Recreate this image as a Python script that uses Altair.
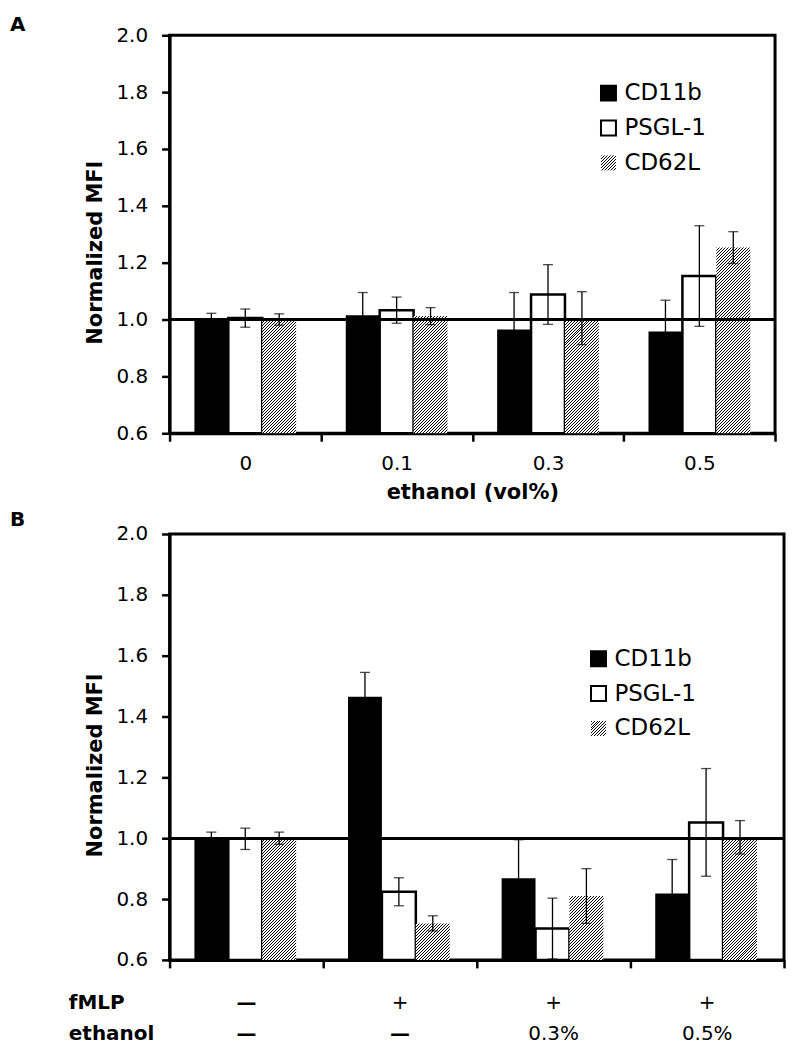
import math
import altair as alt
import pandas as pd

FONT = "DejaVu Sans"
YMIN, YMAX = 0.6, 2.0
BAR_W = 34
SEG = 0.1        # hatched bars are drawn in short pieces so each gradient stays small
OVERLAP = 0.006

series = ["CD11b", "PSGL-1", "CD62L"]

# Panel A: ethanol (vol%)
a_groups = ["0", "0.1", "0.3", "0.5"]
a_cd11b = [1.000, 1.015, 0.965, 0.958]
a_cd11b_err = [0.022, 0.080, 0.130, 0.110]
a_psgl = [1.005, 1.033, 1.088, 1.153]
a_psgl_err = [0.032, 0.046, 0.105, 0.177]
a_cd62l = [1.000, 1.012, 1.005, 1.253]
a_cd62l_err = [0.020, 0.030, 0.093, 0.056]

# Panel B: fMLP / ethanol
b_groups = ["c1", "c2", "c3", "c4"]
b_fmlp = ["—", "+", "+", "+"]
b_ethanol = ["—", "—", "0.3%", "0.5%"]
b_cd11b = [1.000, 1.465, 0.868, 0.818]
b_cd11b_err = [0.020, 0.080, 0.127, 0.112]
b_psgl = [0.998, 0.824, 0.703, 1.052]
b_psgl_err = [0.035, 0.046, 0.100, 0.177]
b_cd62l = [1.000, 0.720, 0.810, 1.003]
b_cd62l_err = [0.020, 0.025, 0.090, 0.055]


def hatch(w, h, phase=0.0, period=3.0, line=1.0):
    """Diagonal '////' stripes as a linear gradient in bounding-box units."""
    S = w + h
    D = w * w + h * h
    stops = []

    def add(s, col):
        stops.append({"offset": round(max(0.0, min(1.0, s / S)), 5), "color": col})

    k = math.floor(phase / period)
    while k * period - phase < S:
        b0 = k * period - phase
        b1 = b0 + line
        e = (k + 1) * period - phase
        if b1 > 0:
            add(max(b0, 0), "black")
            add(min(b1, S), "black")
        if e > 0 and b1 < S:
            add(max(b1, 0), "white")
            add(min(e, S), "white")
        k += 1
    return {"gradient": "linear", "x1": 0, "y1": 0,
            "x2": round(w * S / D, 5), "y2": round(h * S / D, 5), "stops": stops}


def long_df(groups, vals, errs):
    rows = []
    for s, v, e in zip(series, vals, errs):
        for g, vv, ee in zip(groups, v, e):
            rows.append({"group": g, "series": s, "value": vv, "lo": vv - ee, "hi": vv + ee})
    return pd.DataFrame(rows)


def hatch_pieces(groups, vals, ppu):
    rows, conds = [], []
    for g, v in zip(groups, vals):
        lo, i = YMIN, 0
        while lo < v - 1e-9:
            hi = min(lo + SEG, v)
            top = min(hi + OVERLAP, v)
            key = f"{g}|{i}"
            rows.append({"group": g, "series": "CD62L", "y0": lo, "y1": top, "key": key})
            conds.append({"test": f"datum.key === '{key}'",
                          "value": hatch(BAR_W, (top - lo) * ppu, phase=(v - top) * ppu)})
            lo, i = hi, i + 1
    return pd.DataFrame(rows), conds


def panel(label, label_dy, groups, vals, errs, W, H, x_axis, leg_x, leg_y0, extra=None):
    df = long_df(groups, vals, errs)
    ppu = H / (YMAX - YMIN)
    step = W / len(groups)
    po = (step / BAR_W - 3) / 2
    xs = alt.Scale(paddingInner=0, paddingOuter=0)
    x = alt.X("group:N", sort=groups, scale=xs, axis=x_axis, title=x_axis.title if x_axis else None)
    xo = alt.XOffset("series:N", sort=series, scale=alt.Scale(paddingInner=0, paddingOuter=po))
    ys = alt.Scale(domain=[YMIN, YMAX], zero=False, nice=False)
    yax = alt.Axis(values=[0.6, 0.8, 1.0, 1.2, 1.4, 1.6, 1.8, 2.0], format=".1f",
                   labelPadding=14, titlePadding=10, titleY=H / 2 + 18)
    TITLE = "Normalized MFI"

    solid = alt.Chart(df).transform_filter("datum.series !== 'CD62L'").mark_bar(strokeWidth=2.5).encode(
        x=x, xOffset=xo,
        y=alt.Y("value:Q", scale=ys, axis=yax, title=TITLE),
        y2=alt.datum(YMIN),
        fill=alt.condition("datum.series === 'CD11b'", alt.value("black"), alt.value("white")),
        stroke=alt.condition("datum.series === 'PSGL-1'", alt.value("black"), alt.value("transparent")),
    )
    hdf, conds = hatch_pieces(groups, vals[2], ppu)
    hatched = alt.Chart(hdf).mark_bar(strokeWidth=0).encode(
        x=x, xOffset=xo,
        y=alt.Y("y0:Q", scale=ys, axis=yax, title=TITLE),
        y2="y1:Q",
        fill={"condition": conds, "value": "#888888"},
    )
    ref = alt.Chart(df).mark_rule(strokeWidth=2.5, color="black").encode(
        y=alt.YDatum(1.0, scale=ys, axis=yax, title=TITLE))
    err = alt.Chart(df).mark_rule(strokeWidth=1.3, color="black").encode(
        x=x, xOffset=xo, y=alt.Y("lo:Q", scale=ys, axis=yax, title=TITLE), y2="hi:Q")
    cap_hi = alt.Chart(df).mark_tick(orient="horizontal", size=10, thickness=1.3, color="black").encode(
        x=x, xOffset=xo, y=alt.Y("hi:Q", scale=ys, axis=yax, title=TITLE))
    cap_lo = alt.Chart(df).mark_tick(orient="horizontal", size=10, thickness=1.3, color="black").encode(
        x=x, xOffset=xo, y=alt.Y("lo:Q", scale=ys, axis=yax, title=TITLE))
    lab = alt.Chart(pd.DataFrame({"t": [label]})).mark_text(
        align="left", baseline="middle", fontSize=20, fontWeight="bold", font=FONT, color="black"
    ).encode(x=alt.value(-160), y=alt.value(label_dy), text="t:N")
    layers = [solid, hatched, ref, err, cap_hi, cap_lo, lab]
    # legend
    sq = 15
    for i, s in enumerate(series):
        cy = leg_y0 + 35 * i
        if s == "CD11b":
            f, st = "black", "black"
        elif s == "PSGL-1":
            f, st = "white", "black"
        else:
            f, st = hatch(sq, sq), "transparent"
        ld = pd.DataFrame({"series": [s]})
        layers.append(alt.Chart(ld).mark_rect(fill=f, stroke=st, strokeWidth=2).encode(
            x=alt.value(leg_x - sq / 2), x2=alt.value(leg_x + sq / 2),
            y=alt.value(cy - sq / 2), y2=alt.value(cy + sq / 2)))
        layers.append(alt.Chart(ld).mark_text(align="left", baseline="middle", fontSize=23,
                                              font=FONT, color="black").encode(
            x=alt.value(leg_x + 16), y=alt.value(cy), text="series:N"))
    if extra:
        layers += extra(x)
    return alt.layer(*layers).properties(width=W, height=H)


W_A, H_A = 607, 399
W_B, H_B = 616, 427

axis_a = alt.Axis(tickBand="extent", labelAngle=0, labelPadding=12, titlePadding=8,
                  title="ethanol (vol%)")
chart_a = panel("A", -10, a_groups, [a_cd11b, a_psgl, a_cd62l], [a_cd11b_err, a_psgl_err, a_cd62l_err],
                W_A, H_A, axis_a, 440, 58)


def b_rows(x):
    rdf = pd.DataFrame({"group": b_groups, "fmlp": b_fmlp, "eth": b_ethanol})
    out = []
    for col, dy in (("fmlp", 43), ("eth", 74)):
        for dash in (True, False):
            test = f"datum.{col} {'===' if dash else '!=='} '—'"
            out.append(alt.Chart(rdf).transform_filter(test).mark_text(
                fontSize=20, font=FONT, baseline="middle", color="black",
                fontWeight="bold" if dash else "normal"
            ).encode(x=x, y=alt.value(H_B + dy), text=f"{col}:N"))
    hd = pd.DataFrame({"t": ["fMLP", "ethanol"], "r": [0, 1]})
    for r, dy in ((0, 43), (1, 74)):
        out.append(alt.Chart(hd).transform_filter(f"datum.r == {r}").mark_text(
            align="left", baseline="middle", fontSize=20, fontWeight="bold", font=FONT, color="black"
        ).encode(x=alt.value(-101), y=alt.value(H_B + dy), text="t:N"))
    return out


axis_b = alt.Axis(tickBand="extent", labels=False, title=None)
chart_b = panel("B", -14, b_groups, [b_cd11b, b_psgl, b_cd62l], [b_cd11b_err, b_psgl_err, b_cd62l_err],
                W_B, H_B, axis_b, 430, 125, extra=b_rows)

chart = alt.vconcat(chart_a, chart_b, spacing=4).properties(
    padding={"left": 0, "top": 4, "right": 5, "bottom": 2}
).configure_view(stroke="black", strokeWidth=3).configure_axis(
    labelFont=FONT, titleFont=FONT, labelFontSize=20, titleFontSize=21, titleFontWeight="bold",
    labelColor="black", titleColor="black", domainColor="black", tickColor="black",
    domainWidth=3, tickWidth=2.5, tickSize=8, grid=False
)

chart.save("out.html", embed_options={"renderer": "svg", "actions": False})
